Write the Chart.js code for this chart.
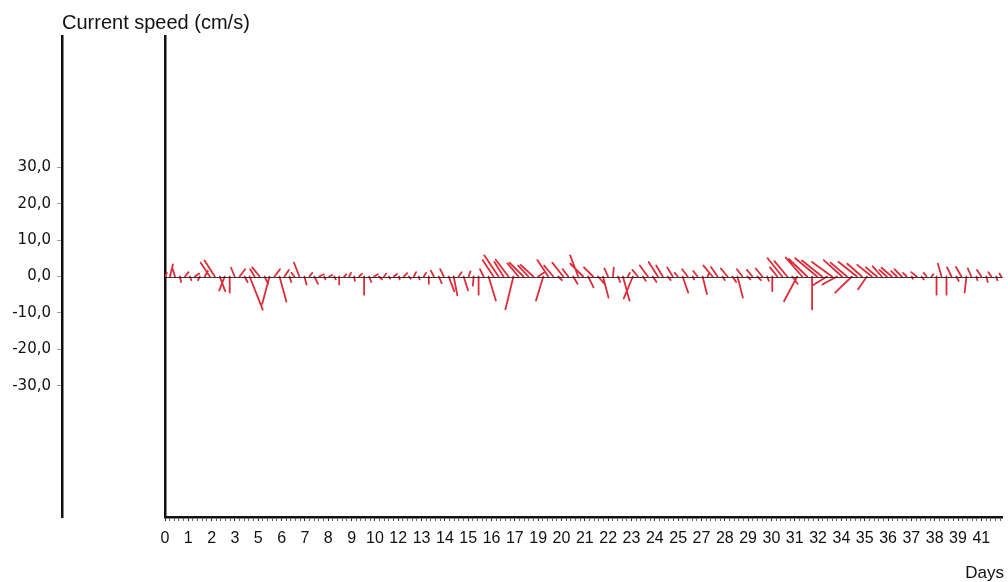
<!DOCTYPE html>
<html>
<head>
<meta charset="utf-8">
<script src="https://cdn.jsdelivr.net/npm/chart.js@4/dist/chart.umd.min.js"></script>
<style>
    html, body { margin: 0; padding: 0; background: #ffffff; }
    #wrap { width: 1008px; height: 582px; position: relative; }
</style>
</head>
<body>
<div id="wrap"><canvas id="stickChart"></canvas></div>
<script>
// Data
const tickLabels = ['0', '1', '2', '3', '5', '6', '7', '8', '9', '10', '12', '13', '14', '15', '16', '17', '19', '20',
    '21', '22', '23', '24', '25', '27', '28', '29', '30', '31', '32', '34', '35', '36', '37', '38', '39', '41'];
const daysPerLabel = 41 / 35;
const sampleHours = 6;

// East component of the current (cm/s), one value per sample
const speedU = [
    0.5, 0.8, -0.6, 0.3, 1.0, 0.4, 1.2, -0.5, 0.8, -2.5,
    -2.8, 1.5, -1.5, 0.0, -1.0, 1.5, 0.8, 3.6, -1.2, -2.0,
    1.0, -2.0, 1.5, 1.9, 1.2, 0.5, -0.8, -1.5, 0.6, 0.8,
    1.0, 1.2, 0.3, 0.8, 0.4, 0.0, 0.6, 0.5, 0.2, 0.8,
    0.0, 0.6, 1.0, 0.8, 0.6, 0.3, 0.8, 0.2, 0.9, 0.5,
    0.6, 0.2, 0.6, 0.0, -0.8, 0.8, -1.0, 1.5, 1.0, 0.8,
    1.2, 0.5, -0.2, 0.0, -1.0, 2.0, -3.0, -3.9, -2.5, -3.5,
    -2.2, -3.0, -3.8, -2.8, -3.5, 1.5, -2.0, -3.0, -2.5, 1.0,
    -3.0, -1.5, 1.2, -2.2, -3.5, 1.5, -2.5, 1.8, 1.5, -1.0,
    0.2, 0.6, 1.8, 0.5, -2.5, -1.5, 0.8, -2.2, 1.0, -2.5,
    -1.8, 0.8, -1.5, -0.8, 1.5, -1.5, 0.4, -1.2, 1.2, 0.5,
    -2.5, -1.8, 0.6, -1.8, 1.0, 1.5, -1.5, 0.8, -1.5, 1.0,
    -1.8, 0.4, 0.0, -2.0, -4.0, -3.5, 1.5, -3.6, -4.5, -5.0,
    0.0, -6.0, -5.5, -4.0, -5.5, -4.0, -5.0, -4.5, -4.6, -5.0,
    -4.0, -2.4, -4.0, -3.0, -2.5, -2.0, -2.8, -1.5, -2.0, -1.0,
    0.3, -1.5, 0.6, -0.8, 0.5, 0.0, -1.0, 0.0, -1.2, 0.6,
    -1.5, -0.5, -1.0, 0.3, -1.2, 0.4, -0.8, 0.3, -0.5
];

// North component of the current (cm/s)
const speedV = [
    1.0, 3.3, 2.0, -1.5, 1.2, -1.0, 0.8, -1.0, 1.5, 3.8,
    4.4, -4.0, -3.8, -4.4, 2.4, 2.0, -1.5, -9.1, 2.0, 2.5,
    -2.0, -7.5, 2.0, -6.9, 1.8, -1.5, 1.0, 3.8, -2.2, 1.0,
    -2.0, 0.6, -0.8, 0.4, -0.8, -2.2, 0.6, 1.0, -1.2, 0.8,
    -5.0, -1.5, 0.6, -0.8, 0.8, -0.6, 0.7, -0.8, 0.9, -0.6,
    1.2, -0.8, 1.0, -2.0, 1.6, -1.8, 2.0, -4.0, -5.2, 1.2,
    -3.8, 1.4, -2.5, -5.0, 2.0, -6.6, 4.5, 5.8, 4.0, 4.6,
    -9.0, 3.6, 3.8, 3.0, 3.2, 1.0, -6.6, 4.5, 3.0, -1.0,
    3.8, 2.0, -2.0, 5.8, 3.5, -3.0, 2.5, -2.0, -5.8, 2.2,
    2.4, -1.5, -6.6, 1.0, -6.0, 1.8, -1.2, 3.0, -1.5, 4.0,
    3.0, -1.0, 2.5, 1.0, -4.4, 2.0, -0.8, 1.5, -4.8, 1.0,
    3.0, 2.6, -1.0, 2.2, -1.5, -5.8, 2.0, -0.8, 1.8, -1.0,
    2.2, -1.2, -4.0, 2.5, 5.0, 4.2, -2.0, -6.8, 5.2, 4.8,
    -9.0, 5.0, 4.4, -2.5, 4.0, -2.2, 4.5, 3.8, -4.4, 4.0,
    3.5, -3.5, 3.2, 2.5, 2.8, 1.8, 2.4, 1.5, 2.0, 1.0,
    -0.6, 1.2, -0.8, 1.0, 0.6, -5.0, 3.5, -5.0, 2.5, -1.2,
    2.6, -4.4, 2.2, -1.0, 1.8, -1.5, 1.2, -1.0, 0.8
];

const yTicks = [30, 20, 10, 0, -10, -20, -30];

const stickColor = '#dc2c38';
const axisColor = '#111111';

// Sticks: each vector starts on the zero line at its sample time,
// then the zero line goes over them
const stickPlugin = {
    id: 'sticks',
    afterDatasetsDraw(chart) {
        const xs = chart.scales.x;
        const ys = chart.scales.yInner;
        const ctx = chart.ctx;
        const area = chart.chartArea;
        const y0 = ys.getPixelForValue(0);
        const pxPerUnit = y0 - ys.getPixelForValue(1);

        ctx.save();
        ctx.beginPath();
        ctx.rect(area.left, area.top, area.right - area.left, area.bottom - area.top);
        ctx.clip();
        ctx.strokeStyle = stickColor;
        ctx.lineWidth = 1.8;
        ctx.lineCap = 'round';
        ctx.beginPath();
        speedU.forEach((u, i) => {
            const day = i * sampleHours / 24;
            const x0 = xs.getPixelForValue(day);
            ctx.moveTo(x0, y0);
            ctx.lineTo(x0 + u * pxPerUnit, ys.getPixelForValue(speedV[i]));
        });
        ctx.stroke();

        ctx.strokeStyle = 'rgba(20, 20, 20, 0.85)';
        ctx.lineWidth = 1;
        ctx.beginPath();
        ctx.moveTo(area.left, Math.round(y0) + 0.5);
        ctx.lineTo(area.right, Math.round(y0) + 0.5);
        ctx.stroke();
        ctx.restore();
    }
};

// Axis captions
const captionPlugin = {
    id: 'captions',
    afterDraw(chart) {
        const ctx = chart.ctx;
        ctx.save();
        ctx.fillStyle = axisColor;
        ctx.textBaseline = 'alphabetic';
        ctx.font = '20px "Liberation Sans", Arial, sans-serif';
        ctx.textAlign = 'left';
        ctx.fillText('Current speed (cm/s)', 62, 29);
        ctx.font = '17px "Liberation Sans", Arial, sans-serif';
        ctx.textAlign = 'right';
        ctx.fillText('Days', 1004, 578);
        ctx.restore();
    }
};

const ctx = document.getElementById('stickChart').getContext('2d');
new Chart(ctx, {
    type: 'scatter',
    data: { datasets: [] },
    options: {
        responsive: true,
        maintainAspectRatio: false,
        animation: false,
        layout: { padding: { top: 36, left: 0, right: 0, bottom: 0 } },
        plugins: {
            legend: { display: false },
            tooltip: { enabled: false }
        },
        scales: {
            x: {
                type: 'linear',
                position: 'bottom',
                min: 0,
                max: 843 / (23.47 / daysPerLabel),
                afterBuildTicks: (scale) => {
                    const step = daysPerLabel / 5;
                    const ticks = [];
                    for (let k = 0; k * step <= scale.max; k++) ticks.push({ value: k * step });
                    scale.ticks = ticks;
                },
                afterFit: (scale) => { scale.height = 65; },
                border: { display: true, color: axisColor, width: 2.5 },
                grid: {
                    drawOnChartArea: false,
                    drawTicks: true,
                    tickLength: 4,
                    tickWidth: 1,
                    tickColor: (c) => (c.index % 5 === 0 ? '#222222' : '#666666')
                },
                ticks: {
                    autoSkip: false,
                    maxRotation: 0,
                    padding: 8,
                    color: axisColor,
                    font: { family: '"Liberation Sans Narrow", "Liberation Sans", Arial, sans-serif', size: 16 },
                    callback: (value, index) => (index % 5 === 0 ? (tickLabels[index / 5] ?? '') : '')
                }
            },
            y: {
                type: 'linear',
                position: 'left',
                weight: 2,
                min: -66,
                max: 66,
                afterBuildTicks: (scale) => { scale.ticks = yTicks.map(v => ({ value: v })); },
                afterFit: (scale) => { scale.width = 62; },
                border: { display: true, color: axisColor, width: 2.5 },
                grid: {
                    drawOnChartArea: false,
                    drawTicks: true,
                    tickLength: 5,
                    tickWidth: 1,
                    tickColor: '#999999'
                },
                ticks: {
                    padding: 6,
                    color: axisColor,
                    font: { family: '"DejaVu Sans", sans-serif', size: 15 },
                    callback: (value) => value.toFixed(1).replace('.', ',')
                }
            },
            yInner: {
                type: 'linear',
                position: 'left',
                weight: 1,
                min: -66,
                max: 66,
                afterFit: (scale) => { scale.width = 103; },
                border: { display: true, color: axisColor, width: 2.5 },
                grid: { display: false, drawTicks: false },
                ticks: { display: false }
            }
        }
    },
    plugins: [stickPlugin, captionPlugin]
});
</script>
</body>
</html>
